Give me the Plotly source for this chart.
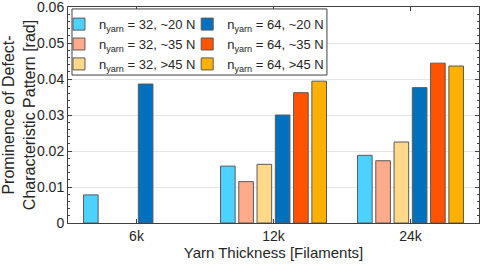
import plotly.graph_objects as go

categories = ["6k", "12k", "24k"]
series_names = [
    "n<sub>yarn</sub> = 32, ~20 N",
    "n<sub>yarn</sub> = 32, ~35 N",
    "n<sub>yarn</sub> = 32, >45 N",
    "n<sub>yarn</sub> = 64, ~20 N",
    "n<sub>yarn</sub> = 64, ~35 N",
    "n<sub>yarn</sub> = 64, >45 N",
]
n32_20 = [0.0078, 0.0158, 0.0188]
n32_35 = [None, 0.0115, 0.0173]
n32_45 = [None, 0.0163, 0.0225]
n64_20 = [0.0386, 0.0300, 0.0376]
n64_35 = [None, 0.0362, 0.0444]
n64_45 = [None, 0.0394, 0.0436]
y_ticks = [0, 0.01, 0.02, 0.03, 0.04, 0.05, 0.06]
y_tick_labels = ["0", "0.01", "0.02", "0.03", "0.04", "0.05", "0.06"]

colors = ["#4DD2FF", "#FFAA8A", "#FFD98A", "#0072BD", "#FF5300", "#FFB000"]
legends = ["legend", "legend", "legend", "legend2", "legend2", "legend2"]
values = [n32_20, n32_35, n32_45, n64_20, n64_35, n64_45]

FONT = "Liberation Sans, Arial, sans-serif"
TXT = "#262626"

fig = go.Figure()
for name, vals, col, lg in zip(series_names, values, colors, legends):
    fig.add_trace(go.Bar(
        x=categories, y=vals, name=name,
        marker=dict(color=col, line=dict(color="#5a5a5a", width=1)),
        legend=lg,
    ))

axis_common = dict(
    showline=True, linecolor="#404040", linewidth=1, mirror="allticks",
    ticks="inside", tickcolor="#404040", ticklen=4, automargin=False,
    tickfont=dict(family=FONT, size=14, color=TXT), ticklabeloverflow="allow",
)

fig.update_layout(
    width=484, height=264,
    margin=dict(l=68, r=5, t=7, b=41, autoexpand=False),
    paper_bgcolor="white", plot_bgcolor="white",
    barmode="group", bargap=0.2, bargroupgap=0.2,
    font=dict(family=FONT, size=14, color=TXT),
    xaxis=dict(
        **axis_common,
        type="category", range=[-0.5, 2.5],
        showgrid=False,
        title=dict(text="Yarn Thickness [Filaments]", standoff=2,
                   font=dict(family=FONT, size=15, color=TXT)),
    ),
    yaxis=dict(
        **axis_common,
        range=[0, 0.06], tickvals=y_ticks, ticktext=y_tick_labels,
        showgrid=True, gridcolor="#e6e6e6", gridwidth=1, zeroline=False,
        minor=dict(dtick=0.002, ticks="inside", ticklen=2, tickcolor="#404040", showgrid=False),
        title=dict(text="Prominence of Defect-<br>Characteristic Pattern [rad]", standoff=2,
                   font=dict(family=FONT, size=16, color=TXT)),
    ),
    legend=dict(
        x=-0.022, y=0.99, xanchor="left", yanchor="top",
        bgcolor="rgba(0,0,0,0)", borderwidth=0,
        font=dict(family=FONT, size=13, color=TXT),
        itemwidth=30, tracegroupgap=0, itemclick=False,
    ),
    legend2=dict(
        x=0.29, y=0.99, xanchor="left", yanchor="top",
        bgcolor="rgba(0,0,0,0)", borderwidth=0,
        font=dict(family=FONT, size=13, color=TXT),
        itemwidth=30, tracegroupgap=0, itemclick=False,
    ),
    shapes=[dict(
        type="rect", xref="paper", yref="paper",
        x0=0.0097, x1=0.63, y0=0.685, y1=0.991,
        line=dict(color="#404040", width=1), fillcolor="white", layer="above",
    )],
    showlegend=True,
)

fig.write_html("out.html", config={"displayModeBar": False},
               post_script="document.body.style.margin='0';")
